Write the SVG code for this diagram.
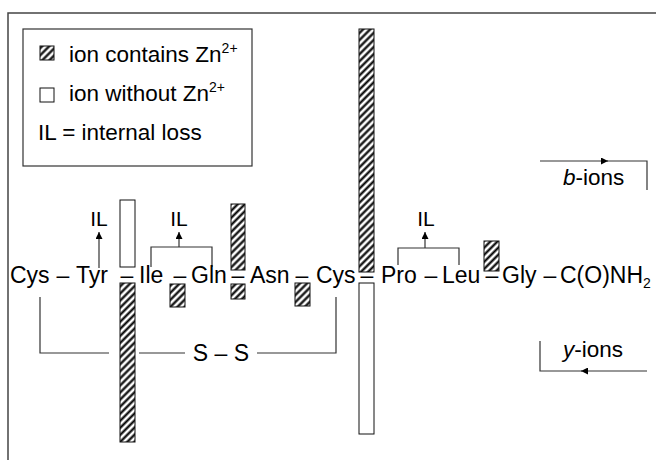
<svg xmlns="http://www.w3.org/2000/svg" width="656" height="460" viewBox="0 0 656 460">
<style>
text{font-family:"Liberation Sans",Arial,sans-serif;fill:#000}
.seq{font-size:23px}
.lg{font-size:22.5px}
.sup{font-size:14px}
.il{font-size:21px;text-anchor:middle}
.mid{text-anchor:middle}
.hb{fill:url(#hatch);stroke:#111;stroke-width:1}
.wb{fill:#fff;stroke:#111;stroke-width:1}
.ln{fill:none;stroke:#333;stroke-width:1.2}
.frame{fill:none;stroke:#444;stroke-width:1.5}
</style>
<defs>
<pattern id="hatch" width="5" height="5" patternUnits="userSpaceOnUse" patternTransform="rotate(45)">
<rect width="5" height="5" fill="#fff"/>
<line x1="2.5" y1="0" x2="2.5" y2="5" stroke="#000" stroke-width="2.2"/>
</pattern>
<marker id="arr" viewBox="0 0 10 10" refX="10" refY="5" markerWidth="7" markerHeight="7" markerUnits="userSpaceOnUse" orient="auto">
<path d="M0,0 L10,5 L0,10 z" fill="#000"/>
</marker>
</defs>
<rect width="656" height="460" fill="#fff"/>
<path class="frame" d="M8,460 V13 H656"/>

<g id="legend">
<rect x="23" y="29" width="229" height="137" fill="#fff" stroke="#333" stroke-width="1.2"/>
<rect class="hb" x="40" y="46" width="14" height="14"/>
<text class="lg" x="69" y="62">ion contains Zn<tspan class="sup" dy="-9">2+</tspan></text>
<rect class="wb" x="40" y="88" width="14" height="14"/>
<text class="lg" x="69" y="101">ion without Zn<tspan class="sup" dy="-9">2+</tspan></text>
<text class="lg" x="38" y="140">IL = internal loss</text>
</g>

<g id="connectors">
<path class="ln" d="M40,297 V353 H109 M139,353 H185 M257,353 H336 V297"/>
<path class="ln" d="M99,268 V232" marker-end="url(#arr)"/>
<path class="ln" d="M151,267 V247 H212 V267"/>
<path class="ln" d="M179,247 V232" marker-end="url(#arr)"/>
<path class="ln" d="M398,265 V248 H459 V265"/>
<path class="ln" d="M425,248 V232" marker-end="url(#arr)"/>
<path class="ln" d="M540,161 H608" marker-end="url(#arr)"/>
<path class="ln" d="M606,161 H647 V190"/>
<path class="ln" d="M647,371 H581" marker-end="url(#arr)"/>
<path class="ln" d="M583,371 H540 V341"/>
</g>

<g id="bars">
<rect id="bar-tyr-ile-top" class="wb" x="120" y="200" width="15" height="67"/>
<rect id="bar-tyr-ile-bot" class="hb" x="120" y="283" width="15" height="159"/>
<rect id="bar-ile-gln-bot" class="hb" x="170" y="284" width="15" height="23"/>
<rect id="bar-gln-asn-top" class="hb" x="231" y="204" width="14" height="66"/>
<rect id="bar-gln-asn-bot" class="hb" x="231" y="284" width="14" height="15"/>
<rect id="bar-asn-cys-bot" class="hb" x="295" y="283" width="15" height="23"/>
<rect id="bar-cys-pro-top" class="hb" x="359" y="29" width="15" height="243"/>
<rect id="bar-cys-pro-bot" class="wb" x="359" y="283" width="15" height="151"/>
<rect id="bar-leu-gly-top" class="hb" x="484" y="241" width="15" height="30"/>
</g>

<g id="sequence" class="seq">
<g id="cys1"><text x="10" y="283">Cys</text></g>
<text class="mid" x="63" y="283">–</text>
<g id="tyr"><text x="76" y="283">Tyr</text></g>
<text class="mid" x="127" y="283">–</text>
<g id="ile"><text x="139" y="283">Ile</text></g>
<text class="mid" x="180" y="283">–</text>
<g id="gln"><text x="191" y="283">Gln</text></g>
<text class="mid" x="238" y="283">–</text>
<g id="asn"><text x="250" y="283">Asn</text></g>
<text class="mid" x="302" y="283">–</text>
<g id="cys2"><text x="316" y="283">Cys</text></g>
<text class="mid" x="367" y="283">–</text>
<g id="pro"><text x="381" y="283">Pro</text></g>
<text class="mid" x="431" y="283">–</text>
<g id="leu"><text x="442" y="283">Leu</text></g>
<text class="mid" x="492" y="283">–</text>
<g id="gly"><text x="502" y="283">Gly</text></g>
<text class="mid" x="550" y="283">–</text>
<g id="cterm"><text x="560" y="283">C(O)NH<tspan class="sup" dy="5">2</tspan></text></g>
</g>

<g id="labels">
<text class="il" x="99" y="226">IL</text>
<text class="il" x="179" y="226">IL</text>
<text class="il" x="426" y="226">IL</text>
<g id="ss"><text class="seq mid" x="221" y="361">S – S</text></g>
<g id="b-ions"><text class="lg" x="563" y="185"><tspan font-style="italic">b</tspan>-ions</text></g>
<g id="y-ions"><text class="lg" x="563" y="357"><tspan font-style="italic">y</tspan>-ions</text></g>
</g>
</svg>
